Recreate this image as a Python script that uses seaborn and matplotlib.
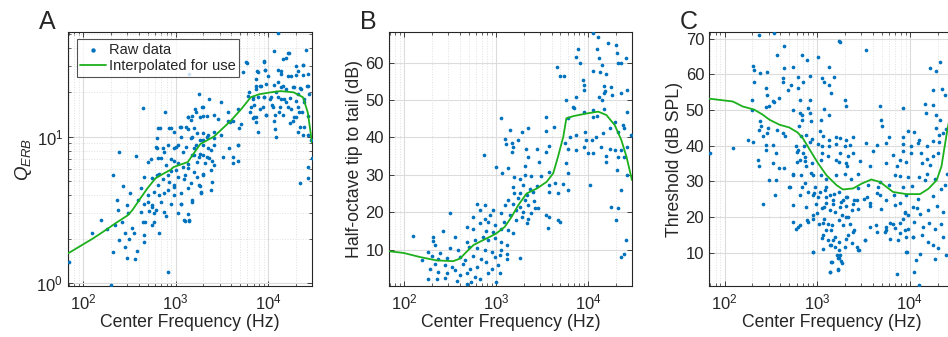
import seaborn as sns
import matplotlib.pyplot as plt
import matplotlib.ticker as mticker
import pandas as pd

# ---- Panel A: Q_ERB ----
qerb_freq = [13000, 11500, 16500, 15500, 26000, 5900, 9100, 24000, 21000, 5300, 7600, 9200, 12800, 13800,
             16500, 20000, 24000, 7400, 10000, 8400, 7400, 11500, 14500, 19000, 22500, 26500, 6100, 6800,
             9000, 10500, 12800, 14800, 17300, 21000, 24500, 28000, 7000, 8800, 11000, 13500, 16500, 21000,
             23500, 6400, 9500, 12000, 14500, 19000, 7400, 17500, 11500, 22500, 21000, 12300, 27000, 29500,
             29800,
             1400, 1800, 2300, 3700, 4700, 3100, 2000, 1600, 1500, 1350, 2200, 2600, 3900, 4800, 1100, 840,
             650, 440, 950, 1350, 1700, 2000, 2600, 1130, 1500, 1850, 2200, 3100, 4700, 3800, 610, 820, 950,
             1280, 1570, 2000, 2400, 740, 1200, 1500, 1850, 2200, 4200, 240, 370, 500, 640, 880, 1050, 1350,
             1700, 2100, 2600, 4200, 27000,
             27000, 22000, 2500, 2000, 1700, 1270, 1050, 820, 660, 560, 450, 210, 270, 320, 420, 500, 640, 820,
             950, 1130, 1350, 1850, 1900, 2400, 230, 300, 390, 450, 560, 690, 880, 1130, 1500, 235, 305, 420,
             580, 740, 1050, 1350, 1250, 1380, 155, 220, 265, 340, 440, 560, 660, 125, 180, 285, 350, 450,
             240, 310, 450, 285, 385, 210, 300, 360, 70, 820, 200,
             760, 1650, 1950, 1350, 1450, 1820, 2000, 1130, 1290, 1580, 670, 890, 2870, 3690, 4170, 5100, 6900,
             620, 1050, 1450, 1650, 1960, 2230, 2600, 620, 720, 1000, 2230, 2600, 4700, 1580, 1790, 2000, 2280,
             2500, 3240, 4700, 535, 690, 780, 960, 1190, 1350, 890, 1000, 1580, 1960, 2400, 630, 720, 840, 950,
             1230, 1450, 1790, 1870, 580, 660, 740, 950, 1130, 1510, 495, 560, 605, 510, 780, 1230, 1380, 580,
             470,
             17000, 14500, 9100, 20000, 24000, 5800, 7800, 9300, 13800, 17800, 27000, 7400, 8300, 9500, 12800,
             13800, 15800, 18600, 23000, 27000, 6200, 6900, 7800, 9100, 10700, 12300, 13800, 15800, 20000, 24600,
             6600, 8300, 11200, 13200, 17800, 21700, 20000, 7100, 9500, 27000, 18600, 24600, 7400, 11800, 7800,
             24000]
qerb_val = [51, 38, 37, 34, 39, 31.6, 32.5, 30.6, 27.8, 27.5, 28, 28.3, 28.3, 26.5,
            25.8, 26.2, 26.2, 24.6, 25.8, 22, 21, 22.4, 22, 21.6, 21.3, 22, 19, 18.5,
            18.7, 17.9, 18.7, 17.9, 18.2, 19.4, 17.9, 19.4, 16.5, 16, 16.3, 15.8, 15.8, 16,
            14.6, 14.6, 14.1, 14.1, 14.1, 13.5, 13.5, 12.3, 12.7, 11.7, 10.8, 10, 10.2, 9.5,
            7.1,
            26.6, 19.6, 17.9, 14.8, 15.5, 17.1, 16, 15.3, 13.7, 13.5, 13.7, 14.1, 12.5, 11.5, 11.7, 11.5,
            11.5, 15.6, 10.8, 11.2, 10.6, 10.6, 10.8, 10, 10, 9.5, 10, 10.3, 8.7, 8.4, 8.5, 8.8, 8.4,
            8.5, 8.4, 8.8, 8.15, 7.8, 7.8, 7.5, 7.6, 7.3, 7.3, 7.8, 7.4, 6.7, 7.1, 7, 6.6, 6.5,
            6.7, 6.6, 6.4, 6.6, 6.2,
            5.2, 4.8, 4.9, 5.6, 5.3, 5.5, 5.3, 5.5, 5.6, 5.2, 5.3, 5.5, 4.6, 4.1, 4.45, 4.0, 4.7, 4.33,
            4.5, 4.1, 4.45, 4.6, 4.1, 4.33, 3.7, 3.4, 3.7, 3.5, 3.3, 3.6, 3.5, 3.5, 3.7, 3.16, 3.0, 3.05,
            3.0, 3.05, 3.0, 2.95, 2.65, 2.65, 2.7, 2.5, 2.6, 2.4, 2.6, 2.5, 2.2, 2.2, 2.35, 2.2, 2.2, 2.15,
            1.97, 2.0, 1.9, 1.77, 1.67, 1.63, 1.5, 1.46, 1.4, 1.19, 0.97,
            14.8, 14.8, 15.8, 13.5, 12.9, 13.5, 13.9, 11.7, 11.7, 11.5, 11.5, 11.5, 13.1, 12.7, 12.7, 12.1, 13.3,
            9.8, 8.8, 9.8, 8.8, 9.5, 10.3, 9.8, 8.4, 8.4, 8.5, 8.4, 8.8, 8.8, 7.5, 7.3, 7.5, 7.2,
            6.8, 7.3, 6.8, 7.0, 7.2, 6.4, 6.8, 6.2, 6.1, 5.8, 5.9, 5.7, 5.5, 5.9, 5.5, 5.1, 4.9, 4.7,
            5.1, 4.8, 4.7, 4.2, 4.2, 4.0, 4.1, 4.0, 3.5, 3.6, 3.6, 3.4, 3.15, 3.1, 2.9, 2.7, 2.7, 2.6,
            2.6,
            37, 33.7, 32, 30, 30.6, 32, 27.5, 28.3, 27.8, 25.8, 26.6, 22, 22, 22.7, 23.4,
            21.7, 21, 21.7, 21, 22, 20, 17.9, 18.5, 18.7, 18.5, 20, 17.9, 17.1, 17.4, 17.1,
            16, 15.3, 15.8, 14.8, 15.3, 14.8, 13.5, 13.5, 14.1, 13.7, 12.7, 11.7, 12.5, 11.2, 10.8,
            10.3]
qerb_fit_freq = [68, 128, 182, 223, 300, 340, 415, 495, 605, 740, 880, 950, 1350, 1850, 2600, 3900, 5100,
                 6500, 8000, 10700, 13700, 19000, 24000, 27000, 30000]
qerb_fit_val = [1.6, 2.03, 2.35, 2.57, 2.9, 3.16, 3.8, 4.45, 5.2, 5.6, 5.94, 6.2, 6.7, 8.9, 10, 12.7, 15.3,
                18.5, 19.4, 20, 20.4, 20, 18.5, 14.6, 9.1]

# ---- Panel B: half-octave tip to tail ----
tail_freq = [11200, 12900, 16600, 20000, 20400, 7800, 12600, 13200, 7400, 8100, 14100, 21300, 23000, 25600,
             13500, 11200, 15700, 4600, 4900, 5400, 8700, 9000, 15000, 17700, 9100, 15200, 26200, 14800,
             18000, 7300, 13200, 23000, 5700, 14000, 6900, 7100, 15000, 11200, 9000, 26200, 6000, 11200,
             12500, 19500, 24000, 1140, 3500, 1400, 2240, 1900, 3500, 4300, 9300, 7400, 6300, 9600, 10900,
             12300, 14400, 17300, 21000, 24600, 29000, 1240, 1740, 1290, 1470, 1520, 2130, 2800, 3800, 5600,
             9100, 13800, 17300, 19500, 23000, 26200, 740, 1470, 2240, 3500, 6000, 7400, 10000, 11400, 15800,
             21300, 24600, 5800, 15800, 2900, 2040, 1000, 1350,
             1170, 1580, 1810, 2040, 2400, 3100, 3800, 6100, 20400, 26500, 1520, 1960, 2320, 2750, 3800, 4370,
             5300, 10500, 1580, 1810, 2140, 2520, 3800, 4650, 6000, 1350, 1740, 2040, 2580, 1240, 1520, 1810,
             2240, 2630, 1660, 1960, 2400, 2880, 930, 1140, 1400, 1890, 2240, 1660, 2140, 3500, 3800, 4650,
             4900, 3650, 17800, 21000, 19900, 23000, 25600, 24300, 23000, 660, 610, 760, 850, 760, 560, 660,
             820, 970, 1140, 1200, 1350, 1520, 780, 930, 560, 475, 315, 265, 207, 125, 355, 475, 590, 725, 820,
             970, 1140, 1300, 207, 215, 315, 385, 500, 610, 760, 890, 1140, 1300, 182, 245, 154, 198, 233, 290,
             404, 460, 560, 690, 780, 970, 1100, 1300, 1810, 215, 275, 330, 440, 520, 610, 890, 1050, 190, 233,
             290, 355, 404, 475, 590, 820, 1100, 182, 224, 275, 370, 475, 535, 660, 1000]
tail_val = [68, 66.8, 65.2, 64.7, 62.7, 63.6, 63.6, 61.2, 61.6, 60, 59.4, 60, 60, 61.2,
            57.6, 57.9, 57.1, 58.75, 56.4, 56.3, 55.4, 54, 53.75, 53.6, 52.7, 52.5, 52.7, 51.8,
            51.3, 50.9, 50.9, 51.8, 50, 50, 48.2, 48, 47.5, 47.3, 46.9, 46.9, 45.1, 45.4,
            45.7, 44.2, 43.3, 45.1, 45.5, 42, 42.4, 41.5, 41.7, 42.9, 41.5, 40.6, 40.2, 39.3, 39.3,
            40.2, 41.1, 42.4, 41.5, 42.4, 40.6, 39.5, 39.3, 38.2, 38.6, 37.5, 37, 37, 37.8, 38.4,
            37.5, 37.5, 37, 36.6, 36.6, 37.5, 35.4, 36.2, 34.8, 36.2, 36.8, 36.6, 35.7, 35.7, 35,
            34.8, 34.8, 33.2, 33.3, 33.3, 32.3, 32.1, 31.9,
            30.4, 29.5, 29, 29.9, 29.7, 29.7, 30.8, 30.5, 31.2, 29.9, 26.8, 27.2, 26.3, 26.9, 27.2, 27.7,
            27.5, 27.2, 25, 25.2, 24.6, 25.4, 25.4, 25.2, 25.9, 23.2, 23.7, 23.2, 23, 21.9, 22.3, 21.4,
            21.9, 21, 20.7, 20.1, 19.8, 21, 20.5, 19.8, 19.2, 18.75, 18.3, 17.9, 17.1, 19.2, 18.75, 17.9,
            17.4, 15.9, 21.4, 21.2, 18, 8, 12.5, 8.75, 26, 20.7, 22.1, 21.9, 19.2, 18.3, 18.75, 17,
            17.4, 16.5, 15.6, 17.4, 15.2, 14.3, 15, 14.7, 15.4, 16.1, 19.8, 14.9, 13.4, 13.7, 13.3, 12.1, 12.5, 13.4, 12.5,
            13, 12.1, 11.2, 12.3, 11.2, 10.3, 9.8, 10.7, 10.3, 10, 9.4, 9.8, 8.9, 9.4, 9.1, 7.1, 8.2, 7.6, 7.8,
            8, 7.1, 8.2, 7.6, 6.7, 7.9, 8.5, 7.6, 7.8, 6.25, 5.8, 5.4, 6.25, 4.9, 5.4, 4.9, 5.8, 4.9, 4.0,
            3.6, 4.5, 3.1, 3.6, 2.7, 3.6, 3.6, 2.0, 2.0, 2.5, 1.6, 0.7, 1.2, 2.0, 1.2]
tail_fit_freq = [68, 98, 148, 224, 340, 404, 475, 565, 665, 850, 1000, 1240, 1470, 1740, 2140, 2750, 3530,
                 4170, 4700, 5370, 5800, 6900, 9600, 12900, 15800, 19500, 23000, 26200, 30000]
tail_fit_val = [9.55, 9.1, 8.0, 7.1, 6.9, 7.6, 9.4, 11.2, 12.1, 13.4, 14.3, 16.1, 18.75, 21.9, 25, 26.3, 28.1,
                30.4, 34.8, 40.2, 45.1, 45.7, 46.4, 46.9, 46, 43.3, 39.3, 34.8, 28.6]

# ---- Panel C: threshold ----
thr_freq = [340, 233, 1710, 1770, 3400, 690, 780, 370, 435, 1020, 205, 550, 440, 1340, 21000, 16600, 19400,
            208, 240, 286, 615, 830, 1120, 1520, 425, 430, 210, 705, 1200, 1350, 525, 620, 277, 490, 1410,
            17800, 22300, 23800, 285, 200, 330, 384, 300, 346, 645, 835, 2000, 4800, 2060, 14500, 17800, 198,
            277, 550, 795, 830, 1180, 8500, 14800, 680, 650, 1350, 680, 4900, 19400, 21000, 240, 1100, 865,
            5000, 292, 250, 238, 366, 425, 630, 287, 455, 9500, 11200, 19200, 24400, 23000, 262, 760, 870, 673,
            1070, 1150, 1350, 1610, 1780, 2050, 2440, 6040, 8500, 12600, 20500, 20700, 69, 124, 180, 205, 277,
            337, 280, 590, 615, 725, 830, 1020, 1120, 1350, 1610, 2000, 2250, 3400, 4450, 5600, 8500, 10400,
            12300, 15200, 17800, 360, 605, 645, 695, 745, 1120, 1310, 1780, 2150, 2440, 4000, 6600, 8500,
            10400, 13300, 15400, 17800, 20000, 230, 330, 384, 1100, 1580, 1740, 2040, 2880, 5500, 7800, 9100,
            13400, 16600, 238, 444, 760, 2080, 3700, 7200,
            300, 360, 550, 675, 850, 1100, 1260, 1610, 1990, 2330, 2760, 3540, 4560, 6030, 7780, 8500, 10500,
            12600, 15400, 14500, 18700, 24000, 25100, 690, 795, 500, 650, 895, 935, 1260, 1260, 1520, 1740,
            2040, 2510, 3220, 4800, 5490, 6740, 9170, 12300, 17800, 21700, 258, 352, 550, 760, 970, 1200, 1480,
            1820, 2050, 2450, 2760, 3700, 4900, 6940, 8900, 10900, 12900, 15900, 19500, 22900, 550, 590, 650,
            795, 895, 1060, 1200, 1310, 1420, 1740, 1900, 2050, 2250, 2510, 3700, 4360, 5600, 6590, 7780, 8500,
            9600, 11200, 13800, 16300, 18600, 21700, 1150, 1310, 1550, 1740, 2050, 2450, 3310, 5380, 6170,
            7460, 9170, 10900, 13400, 15900, 17800, 20400, 23000, 1420, 1710, 1740, 1830, 1620, 2000, 1420,
            1660, 1380, 895, 1150, 2840, 9170, 11700, 18600, 12900, 7300, 11000, 12600, 24400,
            600, 740, 870, 900, 550, 505, 740, 950, 1070, 1020, 1210, 1370, 1480, 1260, 1120, 990, 1370, 1550,
            1770, 1910, 2100, 1860, 2140, 2380, 2690, 2760, 3450, 3720, 4450, 4780, 1260, 1440, 1480, 1370,
            1550, 2140, 2380, 1770, 1660, 1860, 1440, 1370, 1660, 900, 615, 770, 900, 1150, 1120, 5600, 6100,
            6900, 7900, 8900, 8900, 7900, 9600, 9300, 10900, 12000, 6900, 9600, 4450, 3300, 2690, 2760]
thr_val = [71.5, 71.1, 69.3, 69.1, 66.9, 65.5, 64.1, 65.5, 68, 64.9, 62.4, 62.2, 61.8, 62.1, 63.4, 61.8, 61,
           61.1, 60.4, 60.6, 59.4, 59.6, 59, 59.3, 59, 58, 58, 58, 58, 57.1, 57.1, 56.2, 56.2, 55.7, 54.8,
           55.7, 55.9, 54.3, 54.3, 52.9, 52.4, 53.4, 51.2, 52.2, 52.9, 52.9, 52.9, 51.2, 51, 51.8, 51.5, 50.1,
           50.8, 50.1, 50.6, 49.2, 50.4, 50.6, 49.2, 48.7, 49.3, 48.7, 47.3, 47.3, 48.7, 47.3, 46.8, 47.3, 46.8,
           45.4, 45, 45.4, 44.3, 44.5, 43.6, 45.4, 43.6, 42.6, 44, 43.7, 44.9, 44.7, 43.6, 42.6, 43.1, 41.9, 42.6,
           44, 42.6, 41.7, 42.4, 42.1, 41.7, 42.4, 42.4, 42.4, 41.7, 43.1, 40.9, 37.8, 39.3, 41.7, 40.9, 40.3,
           40.1, 38.7, 39.8, 38.9, 39.8, 40.9, 40.6, 39.8, 39.8, 40.6, 40, 40.3, 40.7, 40.3, 40.7, 40.6, 39.8,
           40.7, 39.8, 41.2, 37.9, 38.1, 36.1, 37.8, 35.6, 37.8, 37.2, 37.8, 37, 37.8, 38.4, 37.5, 38.4,
           37.8, 37.9, 36.3, 37, 37.9, 36.1, 35.1, 33.7, 36.1, 36.1, 35.3, 35.1, 35.6, 35.1, 36.1, 35.3,
           35.1, 34.7, 34.2, 33.7, 34.2, 34.2, 34.4, 34.2,
           30.3, 30.3, 32, 31.7, 32.3, 31.7, 30.5, 31.7, 32.1, 30.7, 32.1, 28.9, 28.4, 28.9, 31.4, 28.4, 28.6,
           31.2, 32.1, 30.3, 30.5, 28.9, 32.1, 28.4, 27, 28.4, 26.1, 26.1, 26.7, 28.4, 25.6, 26.5, 27,
           25.6, 24.7, 25.1, 26.1, 24.7, 26.1, 26.1, 25.1, 25.8, 27.7, 23.7, 26.1, 23.3, 22.8, 23.7, 22.8, 23.7,
           24.2, 23, 23.7, 22.1, 23, 22.3, 23.3, 21.4, 22.8, 20.9, 21.9, 23, 21.4, 18.6, 16.7, 17.7,
           18.6, 19.3, 18.1, 19.5, 18.1, 16.3, 19.1, 17.7, 20, 18.1, 16.3, 17.2, 17.7, 17.2, 18.1, 18.3, 19.5,
           16.7, 18.6, 17.2, 18.3, 16.7, 18.1, 14.9, 13.5, 14.4, 13, 13.9, 15.8, 13.5, 15.8, 13.9,
           13.5, 14.4, 14.4, 14.9, 13, 12.1, 11.4, 14.4, 12.1, 10.8, 8.6, 7.7, 9.3, 11.6, 7.4,
           5.2, 4.5, 10.2, 11.1, 10.7, 10.2, 7.9, 8.3, 9.7, 4.1, 4.6, 0.8, 9.3,
           35.4, 36.8, 35.1, 31.8, 31.8, 28.4, 29.5, 28.4, 27, 25.6, 27.5, 26.1, 24.7, 23.9, 22.5, 21.1, 21.9, 21.3,
           22.8, 24.7, 25.6, 20.5, 19.9, 21.9, 24.7, 28.1, 25.6, 23.9, 26.7, 29.8, 16.3, 17.7, 13.5, 12.1,
           11.5, 14.9, 12.6, 9.3, 8.4, 7, 7.3, 4.5, 5.3, 10.1, 17.1, 19.1, 20.5, 18.3, 14.1, 16.3, 18.3,
           16.9, 15.4, 16.3, 21.1, 23.9, 20.5, 10.1, 14.3, 22.5, 31.8, 31.2, 15.7, 13.5, 11.5, 10.7]
thr_fit_freq = [68, 123, 157, 210, 258, 305, 390, 500, 615, 700, 830, 1020, 1260, 1620, 1900, 2450, 3000,
                3840, 4780, 6600, 9170, 12900, 15900, 19500, 22000, 23800, 25500, 28000]
thr_fit_val = [53.2, 52.4, 51, 50.1, 48.7, 47.3, 45.9, 45.1, 43.7, 42.1, 38.9, 35.1, 31.7, 28.9, 27.7, 28,
               29.3, 30.5, 29.8, 27, 26.4, 26.4, 27.9, 30.3, 34.2, 39.8, 44.5, 50]

sns.set_style("ticks")
plt.rcParams['font.family'] = ['Liberation Sans', 'DejaVu Sans']
plt.rcParams['mathtext.fontset'] = 'custom'
plt.rcParams['mathtext.rm'] = 'Liberation Sans'
plt.rcParams['mathtext.it'] = 'Liberation Sans:italic'

DOT = '#0072BD'
GREEN = '#1DB01D'
INK = '#262626'

fig = plt.figure(figsize=(9.48, 3.37), dpi=100)
ax_a = fig.add_axes([0.0717, 0.1513, 0.2574, 0.7537])
ax_b = fig.add_axes([0.4103, 0.1513, 0.2563, 0.7537])
ax_c = fig.add_axes([0.7479, 0.1513, 0.2584, 0.7537])

panels = [
    (ax_a, qerb_freq, qerb_val, qerb_fit_freq, qerb_fit_val, (0.96, 51.5), r'$Q_{ERB}$', 'A', True),
    (ax_b, tail_freq, tail_val, tail_fit_freq, tail_fit_val, (0.25, 68.2), 'Half-octave tip to tail (dB)', 'B', False),
    (ax_c, thr_freq, thr_val, thr_fit_freq, thr_fit_val, (0.6, 71.9), 'Threshold (dB SPL)', 'C', False),
]

for ax, fx, fy, lx, ly, ylim, ylabel, letter, logy in panels:
    raw = pd.DataFrame({'freq': fx, 'val': fy})
    fit = pd.DataFrame({'freq': lx, 'val': ly})
    sns.scatterplot(data=raw, x='freq', y='val', s=7, color=DOT, linewidth=0, ax=ax,
                    label='Raw data', zorder=3)
    sns.lineplot(data=fit, x='freq', y='val', color=GREEN, lw=1.3, ax=ax, estimator=None,
                 label='Interpolated for use', zorder=4)

    ax.set_xscale('log')
    ax.set_xlim(68, 30000)
    ax.xaxis.set_major_locator(mticker.LogLocator(base=10))
    ax.xaxis.set_minor_locator(mticker.LogLocator(base=10, subs=range(2, 10)))
    ax.xaxis.set_minor_formatter(mticker.NullFormatter())
    if logy:
        ax.set_yscale('log')
        ax.yaxis.set_major_locator(mticker.LogLocator(base=10))
        ax.yaxis.set_minor_locator(mticker.LogLocator(base=10, subs=range(2, 10)))
        ax.yaxis.set_minor_formatter(mticker.NullFormatter())
    else:
        ax.yaxis.set_major_locator(mticker.MultipleLocator(10))
        ax.yaxis.set_minor_locator(mticker.NullLocator())
    ax.set_ylim(*ylim)

    ax.grid(True, which='major', color='#dcdcdc', lw=0.8)
    ax.grid(True, which='minor', color='#e0e0e0', lw=0.7, ls=':')
    ax.set_axisbelow(True)
    ax.tick_params(which='both', direction='in', top=True, right=True, colors=INK, labelsize=12)
    ax.tick_params(which='major', length=3.5, width=0.6)
    ax.tick_params(which='minor', length=2, width=0.5)
    ax.tick_params(axis='x', pad=5)
    for s in ax.spines.values():
        s.set_color(INK)
        s.set_linewidth(0.8)

    ax.set_xlabel('Center Frequency (Hz)', fontsize=12.7, color=INK, labelpad=1)
    ax.set_ylabel(ylabel, fontsize=13.5 if logy else 12.7, color=INK, labelpad=2)
    ax.text(-0.118, 1.012, letter, transform=ax.transAxes, fontsize=18, va='baseline', ha='left')

    if letter == 'A':
        leg = ax.legend(loc='upper left', bbox_to_anchor=(0.035, 0.972), borderaxespad=0,
                        fontsize=10.5, frameon=True, fancybox=False, edgecolor=INK,
                        handlelength=1.75, handletextpad=0.2, labelspacing=0.15, borderpad=0.25,
                        markerscale=1.2)
        leg.get_frame().set_linewidth(0.8)
    elif ax.get_legend() is not None:
        ax.get_legend().remove()

fig.savefig('out.png', dpi=100)
